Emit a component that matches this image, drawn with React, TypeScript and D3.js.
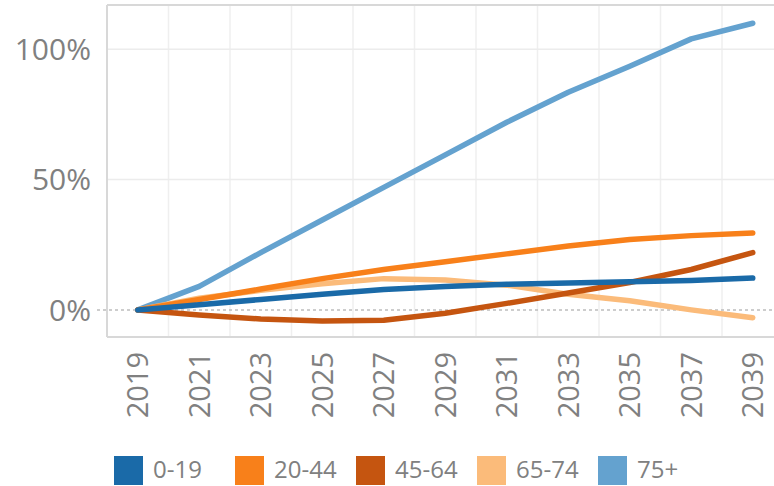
import React from 'react';
import * as d3 from 'd3';

// Odd years only, shown as discrete columns
const years = ['2019', '2021', '2023', '2025', '2027', '2029', '2031', '2033', '2035', '2037', '2039'];

const ageGroups = ['0-19', '20-44', '45-64', '65-74', '75+'];

// % change from 2019
const age0to19 = [0, 2, 4, 6, 7.8, 9, 9.8, 10.3, 10.8, 11.3, 12.2];
const age20to44 = [0, 4, 8, 12, 15.5, 18.5, 21.5, 24.5, 27, 28.5, 29.5];
const age45to64 = [0, -2, -3.5, -4.3, -4, -1.3, 2.5, 6.5, 10.5, 15.5, 22];
const age65to74 = [0, 4.5, 7.5, 10, 12, 11.5, 9.5, 6, 3.5, 0, -3];
const age75plus = [0, 9, 22, 34.5, 47, 59.5, 72, 83.5, 93.5, 104, 110];

const yTicks = [0, 50, 100];

const seriesValues = [age0to19, age20to44, age45to64, age65to74, age75plus];

const W = 774;
const H = 486;
const plot = { left: 107, right: 783.5, top: 5, bottom: 337 };

const color = d3.scaleOrdinal<string, string>()
    .domain(ageGroups)
    .range(['#1a6aa8', '#f8801a', '#c55510', '#fbbb7a', '#64a2cf']);

const FONT = '"Open Sans", sans-serif';
const TEXT = '#808080';

export default function App() {
    const x = d3.scaleBand<string>()
        .domain(years)
        .range([plot.left, plot.right])
        .padding(0);
    const cx = (yr: string) => (x(yr) ?? 0) + x.bandwidth() / 2;

    const y = d3.scaleLinear()
        .domain([-10.4, 117])
        .range([plot.bottom, plot.top]);

    const line = d3.line<number>()
        .x((_, i) => cx(years[i]))
        .y(d => y(d));

    const legendX = d3.scaleBand<string>()
        .domain(ageGroups)
        .range([114, 114 + 121 * ageGroups.length]);

    // draw 75+ first so the small groups sit on top
    const drawOrder = ageGroups.map((g, i) => ({ g, values: seriesValues[i] })).reverse();

    return (
        <svg
            width={W}
            height={H}
            style={{ position: 'absolute', left: 0, top: 0, background: '#fff' }}
        >
            {/* column grid */}
            {years.slice(1).map(yr => (
                <line key={yr} x1={x(yr)} x2={x(yr)} y1={plot.top} y2={plot.bottom}
                    stroke="#efefef" strokeWidth={1.5} />
            ))}
            {/* row grid */}
            {yTicks.filter(t => t !== 0).map(t => (
                <line key={t} x1={plot.left} x2={plot.right} y1={y(t)} y2={y(t)}
                    stroke="#ececec" strokeWidth={1.5} />
            ))}
            {/* frame */}
            <line x1={plot.left} x2={plot.right} y1={plot.top} y2={plot.top} stroke="#d8d8d8" strokeWidth={2} />
            <line x1={plot.left} x2={plot.right} y1={plot.bottom} y2={plot.bottom} stroke="#d8d8d8" strokeWidth={2} />
            <line x1={plot.left} x2={plot.left} y1={plot.top} y2={plot.bottom} stroke="#d8d8d8" strokeWidth={2} />
            {/* zero reference */}
            <line x1={97} x2={plot.right} y1={y(0)} y2={y(0)}
                stroke="#bdbdbd" strokeWidth={1.5} strokeDasharray="3,3" />

            {/* y labels */}
            {yTicks.map(t => (
                <text key={t} x={91} y={y(t)} dy="0.36em" textAnchor="end"
                    fontFamily={FONT} fontSize={30} fill={TEXT}>
                    {t}%
                </text>
            ))}

            {/* x labels, rotated */}
            {years.map(yr => (
                <text key={yr} transform={`translate(${cx(yr)},352) rotate(-90)`}
                    dy="0.36em" textAnchor="end"
                    fontFamily={FONT} fontSize={29} fill={TEXT}>
                    {yr}
                </text>
            ))}

            {/* lines */}
            {drawOrder.map(s => (
                <path key={s.g} d={line(s.values) ?? ''} fill="none"
                    stroke={color(s.g)} strokeWidth={5.5}
                    strokeLinecap="round" strokeLinejoin="round" />
            ))}

            {/* legend */}
            {ageGroups.map(g => (
                <g key={g} transform={`translate(${legendX(g)},456)`}>
                    <rect width={29} height={29} fill={color(g)} />
                    <text x={39} y={22} fontFamily={FONT} fontSize={24} fill={TEXT}>{g}</text>
                </g>
            ))}
        </svg>
    );
}
